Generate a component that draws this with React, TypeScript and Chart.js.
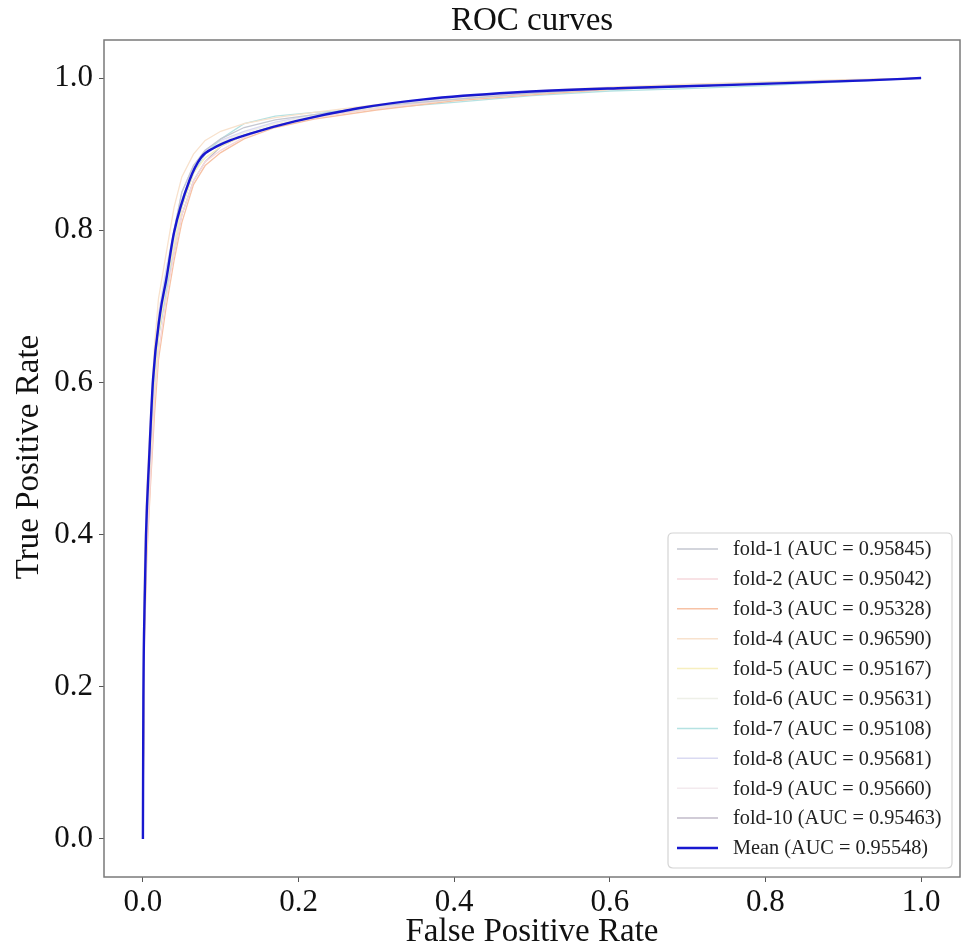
import React, { useEffect, useRef } from "react";
import { Chart, registerables } from "chart.js";

Chart.register(...registerables);

const TITLE = "ROC curves";
const X_LABEL = "False Positive Rate";
const Y_LABEL = "True Positive Rate";
const TICKS = [0, 0.2, 0.4, 0.6, 0.8, 1.0];

// shared FPR grid for fold curves
const foldFpr = [0, 0.002, 0.005, 0.01, 0.015, 0.02, 0.03, 0.04, 0.05, 0.065, 0.08, 0.1, 0.13, 0.17, 0.22, 0.3, 0.4, 0.5, 0.6, 0.7, 0.8, 0.9, 1.0];

const fold1 = [0, 0.32, 0.43, 0.53, 0.62, 0.68, 0.74, 0.80, 0.85, 0.885, 0.905, 0.92, 0.935, 0.945, 0.952, 0.963, 0.972, 0.980, 0.986, 0.990, 0.994, 0.997, 1];
const fold2 = [0, 0.28, 0.38, 0.48, 0.58, 0.64, 0.71, 0.77, 0.82, 0.865, 0.89, 0.905, 0.922, 0.938, 0.948, 0.960, 0.972, 0.981, 0.987, 0.990, 0.993, 0.996, 1];
const fold3 = [0, 0.26, 0.37, 0.47, 0.56, 0.63, 0.70, 0.76, 0.81, 0.86, 0.885, 0.902, 0.92, 0.935, 0.946, 0.958, 0.970, 0.978, 0.985, 0.989, 0.993, 0.997, 1];
const fold4 = [0, 0.36, 0.46, 0.56, 0.65, 0.71, 0.77, 0.83, 0.87, 0.90, 0.918, 0.93, 0.94, 0.948, 0.955, 0.965, 0.975, 0.983, 0.988, 0.992, 0.995, 0.998, 1];
const fold5 = [0, 0.31, 0.42, 0.51, 0.60, 0.66, 0.73, 0.78, 0.83, 0.875, 0.895, 0.91, 0.925, 0.937, 0.948, 0.960, 0.971, 0.980, 0.985, 0.989, 0.993, 0.996, 1];
const fold6 = [0, 0.34, 0.44, 0.52, 0.62, 0.67, 0.74, 0.79, 0.84, 0.88, 0.90, 0.915, 0.928, 0.94, 0.951, 0.962, 0.973, 0.981, 0.986, 0.990, 0.994, 0.997, 1];
const fold7 = [0, 0.29, 0.40, 0.50, 0.59, 0.66, 0.72, 0.78, 0.83, 0.875, 0.90, 0.92, 0.94, 0.95, 0.955, 0.96, 0.968, 0.977, 0.983, 0.986, 0.990, 0.995, 1];
const fold8 = [0, 0.35, 0.45, 0.53, 0.63, 0.69, 0.75, 0.80, 0.85, 0.885, 0.905, 0.918, 0.93, 0.942, 0.952, 0.963, 0.974, 0.982, 0.987, 0.991, 0.994, 0.997, 1];
const fold9 = [0, 0.33, 0.43, 0.52, 0.61, 0.67, 0.73, 0.79, 0.84, 0.88, 0.902, 0.916, 0.929, 0.941, 0.951, 0.962, 0.973, 0.981, 0.986, 0.990, 0.994, 0.997, 1];
const fold10 = [0, 0.32, 0.41, 0.50, 0.60, 0.66, 0.72, 0.77, 0.82, 0.865, 0.89, 0.91, 0.925, 0.937, 0.949, 0.961, 0.972, 0.980, 0.986, 0.989, 0.993, 0.996, 1];

const foldTpr = [fold1, fold2, fold3, fold4, fold5, fold6, fold7, fold8, fold9, fold10];
const foldAuc = ["0.95845", "0.95042", "0.95328", "0.96590", "0.95167", "0.95631", "0.95108", "0.95681", "0.95660", "0.95463"];
const foldColors = ["#c4c7d1", "#f6d8dc", "#f7c2a5", "#f8e2cd", "#f7efbf", "#eef0e8", "#b5e2e2", "#dadaf2", "#f3eaee", "#c2bbca"];

const meanFpr = [0, 0.0003, 0.0006, 0.002, 0.004, 0.008, 0.013, 0.022, 0.03, 0.04, 0.06, 0.075, 0.091, 0.112, 0.138, 0.195, 0.275, 0.361, 0.476, 0.62, 0.758, 0.931, 1.0];
const meanTpr = [0, 0.1, 0.184, 0.3, 0.4, 0.5, 0.604, 0.69, 0.735, 0.797, 0.866, 0.896, 0.908, 0.918, 0.927, 0.943, 0.96, 0.972, 0.981, 0.987, 0.991, 0.997, 1.0];
const meanAuc = "0.95548";
const meanColor = "#1818d0";

const SERIF = "'Liberation Serif', 'DejaVu Serif', serif";

export default function App() {
  const ref = useRef<HTMLCanvasElement | null>(null);

  useEffect(() => {
    const canvas = ref.current;
    if (!canvas) return;

    const datasets: any[] = foldTpr.map((t, i) => ({
      label: `fold-${i + 1} (AUC = ${foldAuc[i]})`,
      data: foldFpr.map((x, j) => ({ x, y: t[j] })),
      borderColor: foldColors[i],
      borderWidth: 1.3,
      pointRadius: 0,
      tension: 0,
      fill: false,
      order: 1,
    }));
    datasets.push({
      label: `Mean (AUC = ${meanAuc})`,
      data: meanFpr.map((x, j) => ({ x, y: meanTpr[j] })),
      borderColor: meanColor,
      borderWidth: 2.4,
      pointRadius: 0,
      cubicInterpolationMode: "monotone",
      fill: false,
      order: -1,
    });

    const overlay = {
      id: "overlay",
      afterDatasetsDraw(chart: any) {
        const ctx = chart.ctx;
        const a = chart.chartArea;
        ctx.save();
        // frame
        ctx.strokeStyle = "#7a7a7a";
        ctx.lineWidth = 1.5;
        ctx.strokeRect(a.left, a.top, a.right - a.left, a.bottom - a.top);
        // title
        ctx.fillStyle = "#111";
        ctx.textAlign = "center";
        ctx.textBaseline = "middle";
        ctx.font = `33px ${SERIF}`;
        ctx.fillText(TITLE, (a.left + a.right) / 2, 21);
        // axis titles
        ctx.font = `33px ${SERIF}`;
        ctx.fillText(X_LABEL, (a.left + a.right) / 2, 932);
        ctx.save();
        ctx.translate(29, 457);
        ctx.rotate(-Math.PI / 2);
        ctx.fillText(Y_LABEL, 0, 0);
        ctx.restore();
        // legend
        const lx = 668, ly = 533, lw = 284, lh = 335, r = 5;
        ctx.fillStyle = "rgba(255,255,255,0.85)";
        ctx.strokeStyle = "#d4d4d4";
        ctx.lineWidth = 1.2;
        ctx.beginPath();
        ctx.moveTo(lx + r, ly);
        ctx.lineTo(lx + lw - r, ly);
        ctx.quadraticCurveTo(lx + lw, ly, lx + lw, ly + r);
        ctx.lineTo(lx + lw, ly + lh - r);
        ctx.quadraticCurveTo(lx + lw, ly + lh, lx + lw - r, ly + lh);
        ctx.lineTo(lx + r, ly + lh);
        ctx.quadraticCurveTo(lx, ly + lh, lx, ly + lh - r);
        ctx.lineTo(lx, ly + r);
        ctx.quadraticCurveTo(lx, ly, lx + r, ly);
        ctx.closePath();
        ctx.fill();
        ctx.stroke();
        ctx.font = `20.3px ${SERIF}`;
        ctx.textAlign = "left";
        ctx.textBaseline = "middle";
        chart.data.datasets.forEach((ds: any, i: number) => {
          const y = 549 + i * 29.9;
          ctx.strokeStyle = i === 10 ? ds.borderColor : foldColors[i];
          ctx.lineWidth = i === 10 ? 2.4 : 1.5;
          ctx.beginPath();
          ctx.moveTo(677, y);
          ctx.lineTo(718, y);
          ctx.stroke();
          ctx.fillStyle = "#222";
          ctx.fillText(ds.label, 733, y + 1);
        });
        ctx.restore();
      },
    };

    const axisCommon = (isX: boolean) => ({
      type: "linear" as const,
      min: -0.05,
      max: 1.05,
      afterBuildTicks(scale: any) {
        scale.ticks = TICKS.map((v) => ({ value: v }));
      },
      afterFit(scale: any) {
        if (isX) scale.height = 71;
        else scale.width = 104;
      },
      border: { display: false },
      grid: {
        drawOnChartArea: false,
        drawTicks: true,
        tickLength: 5,
        color: "#555",
        lineWidth: 1,
      },
      ticks: {
        padding: isX ? 2 : 6,
        color: "#111",
        font: { family: SERIF, size: 31 },
        callback: (v: any) => Number(v).toFixed(1),
        maxRotation: 0,
        autoSkip: false,
      },
    });

    const chart = new Chart(canvas, {
      type: "line",
      data: { datasets },
      options: {
        animation: false,
        responsive: false,
        devicePixelRatio: 1,
        parsing: false,
        layout: { padding: { top: 40, right: 2, left: 0, bottom: 0 } },
        plugins: {
          legend: { display: false },
          title: { display: false },
          tooltip: { enabled: false },
        },
        scales: {
          x: axisCommon(true),
          y: axisCommon(false),
        },
      },
      plugins: [overlay],
    });
    return () => chart.destroy();
  }, []);

  return (
    <div style={{ position: "absolute", left: 0, top: 0, width: 962, height: 948, background: "#fff" }}>
      <canvas ref={ref} width={962} height={948} />
    </div>
  );
}
